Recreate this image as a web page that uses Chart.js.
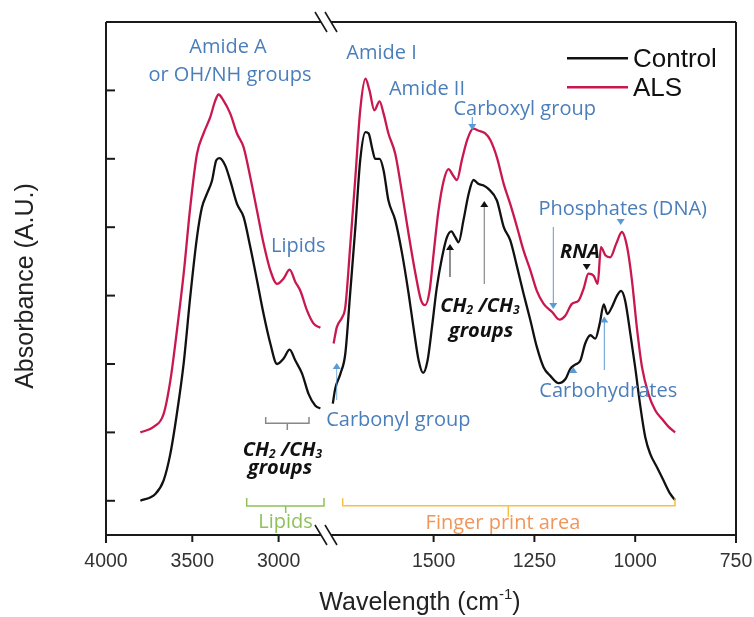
<!DOCTYPE html>
<html><head><meta charset="utf-8">
<script src="https://cdn.jsdelivr.net/npm/chart.js@4.4.1/dist/chart.umd.min.js"></script>
<style>html,body{margin:0;padding:0;background:#fff;}#wrap{width:754px;height:617px;}</style>
</head><body><div id="wrap"><canvas id="c" width="754" height="617"></canvas></div>
<script>
// ---- Data (wavenumber in cm-1, absorbance in arbitrary units) ----
const controlWnLeft  = [3801,3714,3666,3627,3589,3550,3512,3473,3444,3415,3386,3361,3342,3309,3280,3241,3203,3164,3125,3087,3048,3009,2971,2936,2903,2864,2826,2787,2758];
const controlAbsLeft = [0.00,0.10,0.30,0.69,1.28,2.01,2.98,3.85,4.29,4.49,4.68,4.98,5.01,4.90,4.68,4.34,4.15,3.71,3.22,2.73,2.30,2.00,2.08,2.21,2.05,1.86,1.56,1.39,1.35];
const alsWnLeft  = [3801,3724,3666,3627,3589,3550,3512,3473,3435,3396,3367,3348,3319,3280,3241,3203,3164,3125,3087,3048,3009,2971,2936,2903,2874,2835,2797,2758];
const alsAbsLeft = [1.00,1.08,1.27,1.76,2.49,3.32,4.29,5.07,5.37,5.61,5.85,5.94,5.85,5.66,5.37,5.17,4.73,4.24,3.76,3.37,3.17,3.25,3.38,3.20,3.07,2.78,2.59,2.53];
const controlWnRight  = [1750,1744,1731,1719,1707,1694,1682,1669,1661,1653,1645,1634,1624,1612,1595,1578,1562,1550,1537,1526,1515,1504,1492,1479,1467,1456,1446,1438,1426,1413,1401,1388,1376,1364,1343,1326,1310,1293,1277,1260,1244,1227,1211,1190,1173,1161,1149,1136,1124,1111,1099,1088,1078,1069,1058,1045,1035,1025,1012,1000,987,975,963,946,930,913,901];
const controlAbsRight = [1.42,1.64,1.86,2.15,3.03,4.00,4.98,5.39,5.37,5.17,5.00,5.00,4.83,4.39,4.10,3.61,3.03,2.54,2.05,1.87,2.05,2.54,3.12,3.56,3.85,3.94,3.85,3.78,4.10,4.49,4.69,4.63,4.61,4.56,4.39,4.00,3.81,3.42,3.03,2.64,2.25,1.95,1.83,1.72,1.78,1.93,1.99,2.05,2.30,2.42,2.37,2.59,2.87,2.73,2.83,3.00,3.07,2.93,2.44,1.95,1.37,0.93,0.69,0.49,0.30,0.10,0.01];
const alsWnRight  = [1748,1740,1727,1719,1707,1694,1682,1669,1659,1647,1634,1624,1612,1595,1578,1562,1545,1531,1521,1510,1500,1488,1475,1463,1452,1442,1430,1417,1402,1388,1372,1359,1343,1326,1310,1293,1277,1260,1244,1227,1206,1188,1173,1157,1140,1128,1116,1103,1093,1085,1074,1062,1047,1033,1020,1008,996,983,967,950,934,917,901];
const alsAbsRight = [2.30,2.54,2.68,2.83,3.71,4.73,5.71,6.17,6.00,5.71,5.84,5.66,5.37,5.07,4.49,3.90,3.32,2.93,2.86,3.07,3.61,4.24,4.68,4.85,4.76,4.69,4.98,5.27,5.44,5.41,5.37,5.27,5.02,4.63,4.34,4.00,3.66,3.37,3.07,2.88,2.76,2.65,2.71,2.88,2.93,3.10,3.32,3.29,3.17,3.71,3.59,3.56,3.76,3.93,3.71,3.22,2.54,1.95,1.56,1.32,1.20,1.08,1.00];
const tickWn = [4000,3500,3000,1500,1250,1000,750];
const tickLabels = ['4000','3500','3000','1500','1250','1000','750'];
const yTickValues = [0,1,2,3,4,5,6];
const seriesNames = ['Control','ALS'];

// ---- Broken-axis transform (left segment 4000-2600, right segment 1900-750) ----
const LEFT_SCALE = 0.1726, RIGHT_OFFSET = 327.6, RIGHT_SCALE = 0.4032, SPLIT_WN = 2200, AXIS_MAX = 630, BREAK_AT = 220;
function toD(wn){ return wn > SPLIT_WN ? (4000 - wn) * LEFT_SCALE : RIGHT_OFFSET + (1500 - wn) * RIGHT_SCALE; }
function buildSeries(wl, al, wr, ar){
  const pts = [];
  wl.forEach((w,i)=>pts.push({x:toD(w), y:al[i]}));
  pts.push({x:toD(2700), y:null});
  wr.forEach((w,i)=>pts.push({x:toD(w), y:ar[i]}));
  return pts;
}

const BLUE = '#4A7EBB', ARROW = '#5B9BD5';
const annoFont = '"Open Sans", "Noto Sans", sans-serif';

function txt(ctx, s, x, y, font, color, align){
  ctx.font = font; ctx.fillStyle = color; ctx.textAlign = align || 'center'; ctx.textBaseline = 'alphabetic';
  ctx.fillText(s, x, y);
}
function tri(ctx, x, tipY, dir, color, w, h){
  w = w || 4; h = h || 6;
  ctx.fillStyle = color; ctx.beginPath();
  ctx.moveTo(x, tipY); ctx.lineTo(x - w, tipY - dir*h); ctx.lineTo(x + w, tipY - dir*h); ctx.closePath(); ctx.fill();
}
function vline(ctx, x, y1, y2, color, lw){
  ctx.strokeStyle = color; ctx.lineWidth = lw || 1.2; ctx.beginPath(); ctx.moveTo(x, y1); ctx.lineTo(x, y2); ctx.stroke();
}
function bracket(ctx, x1, x2, yTop, yBar, xMid, yMid, color){
  ctx.strokeStyle = color; ctx.lineWidth = 1.5; ctx.beginPath();
  ctx.moveTo(x1, yTop); ctx.lineTo(x1, yBar); ctx.lineTo(x2, yBar); ctx.lineTo(x2, yTop);
  ctx.moveTo(xMid, yBar); ctx.lineTo(xMid, yMid); ctx.stroke();
}
function chem(ctx, cx, baseline, size, color){
  const big = 'italic bold ' + size + 'px ' + annoFont;
  const small = 'italic bold ' + Math.round(size*0.62) + 'px ' + annoFont;
  const parts = [['CH',big,0],['2',small,2],[' /CH',big,0],['3',small,2]];
  let total = 0;
  parts.forEach(p=>{ctx.font=p[1]; total += ctx.measureText(p[0]).width;});
  let x = cx - total/2;
  ctx.fillStyle = color; ctx.textAlign='left'; ctx.textBaseline='alphabetic';
  parts.forEach(p=>{ctx.font=p[1]; ctx.fillText(p[0], x, baseline + p[2]); x += ctx.measureText(p[0]).width;});
}

const decor = {
  id:'decor',
  afterDraw(chart){
    const ctx = chart.ctx, a = chart.chartArea, xs = chart.scales.x, ys = chart.scales.y;
    ctx.save();
    // frame
    ctx.strokeStyle = '#1a1a1a'; ctx.lineWidth = 2;
    ctx.beginPath();
    ctx.moveTo(a.left, a.top); ctx.lineTo(a.right, a.top);
    ctx.moveTo(a.left, a.top); ctx.lineTo(a.left, a.bottom + 8);
    ctx.moveTo(a.right, a.top); ctx.lineTo(a.right, a.bottom + 8);
    ctx.moveTo(a.left, a.bottom); ctx.lineTo(a.right, a.bottom);
    ctx.stroke();
    // y ticks (inward)
    yTickValues.forEach(v=>{ const py = ys.getPixelForValue(v); ctx.beginPath(); ctx.moveTo(a.left, py); ctx.lineTo(a.left+9, py); ctx.stroke(); });
    // x ticks
    xs.ticks.forEach(t=>{ const px = xs.getPixelForValue(t.value); ctx.beginPath(); ctx.moveTo(px, a.bottom); ctx.lineTo(px, a.bottom+7); ctx.stroke(); });
    // axis breaks
    const bx = xs.getPixelForValue(BREAK_AT);
    [a.top, a.bottom].forEach(by=>{
      ctx.fillStyle = '#fff'; ctx.beginPath();
      ctx.moveTo(bx-11, by-10); ctx.lineTo(bx-1, by-10); ctx.lineTo(bx+11, by+10); ctx.lineTo(bx+1, by+10); ctx.closePath(); ctx.fill();
      ctx.strokeStyle = '#1a1a1a'; ctx.lineWidth = 1.6; ctx.beginPath();
      ctx.moveTo(bx-11, by-10); ctx.lineTo(bx+1, by+10);
      ctx.moveTo(bx-1, by-10); ctx.lineTo(bx+11, by+10); ctx.stroke();
    });
    // axis titles
    ctx.fillStyle = '#222'; ctx.textBaseline='alphabetic';
    const f1 = '25px "Liberation Sans", Arial, sans-serif', f2 = '15px "Liberation Sans", Arial, sans-serif';
    ctx.font = f1; const w1 = ctx.measureText('Wavelength (cm').width, w3 = ctx.measureText(')').width;
    ctx.font = f2; const w2 = ctx.measureText('-1').width;
    let x0 = 420 - (w1+w2+w3)/2;
    ctx.textAlign='left';
    ctx.font = f1; ctx.fillText('Wavelength (cm', x0, 610);
    ctx.font = f2; ctx.fillText('-1', x0+w1, 599);
    ctx.font = f1; ctx.fillText(')', x0+w1+w2, 610);
    ctx.save(); ctx.translate(33, 286); ctx.rotate(-Math.PI/2);
    ctx.textAlign='center'; ctx.font = f1; ctx.fillText('Absorbance (A.U.)', 0, 0); ctx.restore();
    // legend
    chart.data.datasets.forEach((ds,i)=>{
      const ly = 58.3 + i*29;
      ctx.strokeStyle = ds.borderColor; ctx.lineWidth = 2.4; ctx.beginPath(); ctx.moveTo(567, ly); ctx.lineTo(628, ly); ctx.stroke();
      txt(ctx, ds.label, 633, ly + 8.6, '26px "Liberation Sans", Arial, sans-serif', '#111', 'left');
    });
    // annotations
    const f = '20px ' + annoFont;
    txt(ctx, 'Amide A', 228, 52.7, f, BLUE);
    txt(ctx, 'or OH/NH groups', 230, 81, f, BLUE);
    txt(ctx, 'Amide I', 381.5, 59.3, f, BLUE);
    txt(ctx, 'Amide II', 427, 95, f, BLUE);
    txt(ctx, 'Carboxyl group', 524.7, 115, f, BLUE);
    vline(ctx, 472.3, 117, 125, ARROW, 1); tri(ctx, 472.3, 130, 1, ARROW);
    txt(ctx, 'Lipids', 298.3, 252.3, f, BLUE);
    txt(ctx, 'Phosphates (DNA)', 622.7, 215, f, BLUE);
    tri(ctx, 620.7, 225, 1, ARROW);
    vline(ctx, 553.3, 227, 303, ARROW, 1); tri(ctx, 553.3, 309, 1, ARROW);
    txt(ctx, 'RNA', 580, 258.3, 'italic bold 20px ' + annoFont, '#111');
    tri(ctx, 586.7, 270, 1, '#111');
    chem(ctx, 480, 311.7, 20, '#111');
    txt(ctx, 'groups', 481, 336.7, 'italic bold 20px ' + annoFont, '#111');
    vline(ctx, 450, 277, 250, '#444', 1.2); tri(ctx, 450, 244, -1, '#111');
    vline(ctx, 484.3, 284, 207, '#888', 1.2); tri(ctx, 484.3, 201, -1, '#111');
    txt(ctx, 'Carbohydrates', 608.3, 397.3, f, BLUE);
    tri(ctx, 573.3, 367, -1, ARROW);
    vline(ctx, 604.3, 370, 322, ARROW, 1); tri(ctx, 604.3, 316.5, -1, ARROW);
    txt(ctx, 'Carbonyl group', 398.3, 425.7, f, BLUE);
    tri(ctx, 336.7, 363, -1, ARROW); vline(ctx, 336.7, 369, 400, ARROW, 0.8);
    bracket(ctx, 265.7, 309, 417, 423.3, 287.3, 430, '#888');
    chem(ctx, 282.5, 456, 20, '#111');
    txt(ctx, 'groups', 280, 474, 'italic bold 20px ' + annoFont, '#111');
    bracket(ctx, 246.7, 324, 498, 506, 285.7, 513, '#8FC15A');
    txt(ctx, 'Lipids', 285.5, 528.3, f, '#8FC15A');
    bracket(ctx, 342.7, 675, 498.3, 505.7, 508.3, 516.7, '#F5C242');
    txt(ctx, 'Finger print area', 503, 529, f, '#F0965A');
    ctx.restore();
  }
};

new Chart(document.getElementById('c'), {
  type:'line',
  data:{ datasets:[
    { label: seriesNames[0], data: buildSeries(controlWnLeft, controlAbsLeft, controlWnRight, controlAbsRight), borderColor:'#111111', borderWidth:2.3 },
    { label: seriesNames[1], data: buildSeries(alsWnLeft, alsAbsLeft, alsWnRight, alsAbsRight), borderColor:'#C9184F', borderWidth:2.3 }
  ]},
  options:{
    responsive:false, animation:false, devicePixelRatio:1,
    layout:{padding:{left:0, right:18, top:22, bottom:0}},
    plugins:{legend:{display:false}, tooltip:{enabled:false}},
    elements:{point:{radius:0}, line:{cubicInterpolationMode:'monotone', fill:false}},
    spanGaps:false,
    scales:{
      x:{type:'linear', min:0, max:AXIS_MAX, grid:{display:false, drawTicks:false}, border:{display:false},
         afterBuildTicks:s=>{ s.ticks = tickWn.map(w=>({value:toD(w)})); },
         afterFit:s=>{ s.height = 82; },
         ticks:{autoSkip:false, maxRotation:0, minRotation:0, padding:0, color:'#333',
                font:{family:'"Liberation Sans", Arial, sans-serif', size:19.5, lineHeight:2.7},
                callback:(v,i)=>tickLabels[i]}},
      y:{min:-0.5, max:7, grid:{display:false, drawTicks:false}, border:{display:false}, ticks:{display:false},
         afterFit:s=>{ s.width = 106; }}
    }
  },
  plugins:[decor]
});
</script></body></html>
